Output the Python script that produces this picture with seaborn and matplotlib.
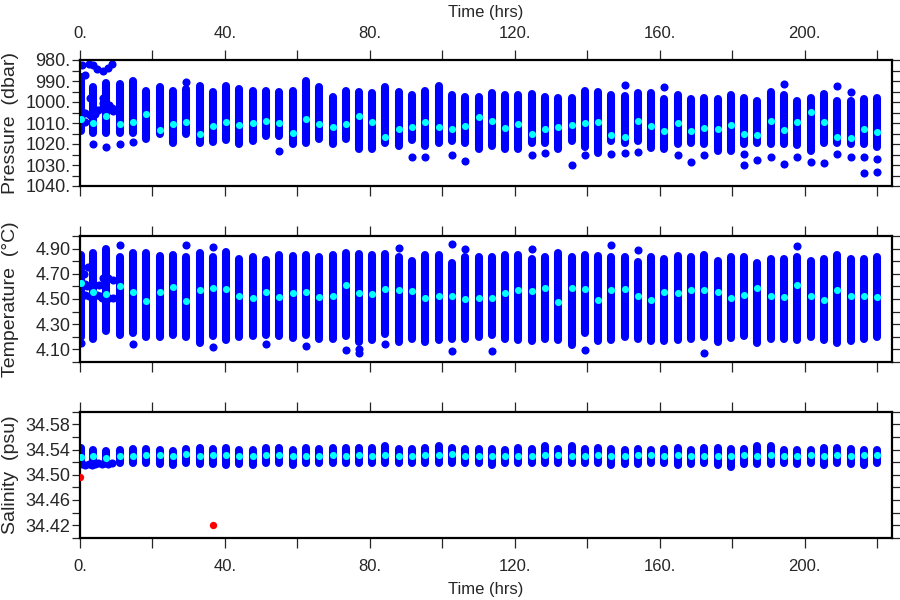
import matplotlib
matplotlib.use("Agg")
import matplotlib.pyplot as plt
from matplotlib.ticker import MultipleLocator
import pandas as pd
import seaborn as sns

# profile times (hrs), one vertical column of samples per profile
times = [0.2, 3.7, 7.3, 11.0, 14.7, 18.3, 22.0, 25.7, 29.3, 33.0,
         36.7, 40.3, 44.0, 47.7, 51.3, 55.0, 58.7, 62.3, 66.0, 69.7,
         73.3, 77.0, 80.7, 84.3, 88.0, 91.7, 95.3, 99.0, 102.7, 106.3,
         110.0, 113.7, 117.3, 121.0, 124.7, 128.3, 132.0, 135.7, 139.3, 143.0,
         146.7, 150.3, 154.0, 157.7, 161.3, 165.0, 168.7, 172.3, 176.0, 179.7,
         183.3, 187.0, 190.7, 194.3, 198.0, 201.7, 205.3, 209.0, 212.7, 216.3,
         220.0]

# pressure (dbar)
p_min = [988.0, 993.0, 991.0, 991.4, 990.2, 994.9, 993.0, 994.9, 993.8, 992.2,
         995.4, 992.4, 993.7, 994.6, 994.6, 995.2, 994.9, 990.2, 992.7, 997.8,
         994.9, 995.4, 995.9, 993.0, 995.2, 996.5, 994.9, 992.2, 996.5, 997.8,
         997.8, 995.9, 996.5, 996.5, 996.2, 997.5, 998.1, 998.1, 994.9, 995.4,
         996.5, 997.0, 995.9, 995.9, 998.4, 996.8, 998.6, 998.1, 998.6, 996.8,
         998.1, 999.4, 995.4, 996.5, 999.4, 998.1, 996.2, 999.3, 999.3, 998.7,
         998.1]
p_max = [1014.0, 1014.6, 1014.6, 1014.6, 1014.9, 1017.8, 1015.2, 1019.4, 1015.2, 1019.4,
         1018.9, 1018.1, 1020.0, 1018.4, 1016.2, 1016.2, 1020.0, 1019.4, 1017.5, 1020.2,
         1017.8, 1022.2, 1022.2, 1019.4, 1021.0, 1018.1, 1021.0, 1019.4, 1018.6, 1019.4,
         1022.2, 1021.0, 1022.2, 1022.2, 1019.4, 1019.4, 1022.2, 1018.7, 1021.3, 1024.1,
         1018.6, 1019.4, 1018.6, 1021.7, 1022.5, 1020.2, 1019.4, 1020.2, 1023.3, 1023.3,
         1020.2, 1019.4, 1020.2, 1020.2, 1020.6, 1023.3, 1019.4, 1019.4, 1020.2, 1020.2,
         1021.3]
p_mean = [1008.1, 1010.2, 1006.7, 1010.5, 1009.5, 1005.7, 1013.3, 1010.5, 1009.5, 1015.2,
          1011.4, 1009.5, 1011.0, 1009.8, 1008.9, 1009.8, 1014.6, 1008.1, 1010.5, 1011.7,
          1010.6, 1006.5, 1009.5, 1016.8, 1013.0, 1012.0, 1009.5, 1012.0, 1013.0, 1011.3,
          1007.3, 1008.9, 1012.4, 1010.5, 1015.2, 1013.0, 1011.7, 1010.8, 1009.8, 1009.5,
          1015.7, 1016.8, 1009.2, 1011.4, 1013.7, 1009.8, 1013.7, 1012.2, 1012.7, 1011.1,
          1015.2, 1015.9, 1009.2, 1013.3, 1009.5, 1004.8, 1009.7, 1016.8, 1017.1, 1013.0,
          1014.3]
p_out_idx = [1, 2, 3, 4, 8, 15, 25, 26, 28, 29, 34, 35, 37, 38, 40, 41, 41, 42, 44, 45,
             46, 47, 50, 50, 51, 52, 53, 53, 54, 55, 56, 57, 57, 58, 58, 59, 59, 60, 60]
p_out_val = [1020.1, 1021.3, 1020.0, 1019.1, 990.3, 1023.2, 1026.0, 1026.3, 1025.2, 1028.0,
             1025.4, 1024.1, 1030.0, 1025.4, 1024.8, 992.0, 1024.4, 1023.8, 993.0, 1025.2,
             1028.4, 1025.2, 1024.9, 1029.8, 1027.6, 1026.3, 991.4, 1029.5, 1026.3, 1028.4,
             1028.9, 992.4, 1024.8, 995.2, 1026.3, 1026.3, 1033.8, 1027.0, 1033.3]
# samples taken while the instrument was settling (first ~9 hrs)
p_early_t = [0.5, 2.6, 3.6, 4.6, 6.4, 7.8, 8.7, 1.3, 2.8, 6.4, 6.4, 8.0, 8.7,
             0.5, 1.4, 2.8, 4.0, 5.1, 6.4, 7.5, 9.0, 1.4]
p_early_v = [982.4, 982.0, 982.5, 984.3, 985.2, 983.7, 982.0, 987.1, 998.3, 998.0, 1000.5, 1001.5, 1002.7,
             1004.6, 1005.0, 1006.2, 1005.5, 1003.8, 1002.2, 1003.5, 1004.5, 1009.4]

# temperature (degC)
t_min = [4.200, 4.185, 4.249, 4.212, 4.233, 4.196, 4.196, 4.217, 4.201, 4.148,
         4.207, 4.175, 4.201, 4.207, 4.217, 4.207, 4.190, 4.217, 4.185, 4.185,
         4.207, 4.159, 4.175, 4.220, 4.159, 4.180, 4.159, 4.175, 4.180, 4.185,
         4.196, 4.212, 4.180, 4.175, 4.164, 4.185, 4.175, 4.137, 4.228, 4.164,
         4.175, 4.196, 4.180, 4.170, 4.164, 4.175, 4.185, 4.196, 4.159, 4.191,
         4.207, 4.148, 4.180, 4.180, 4.175, 4.201, 4.175, 4.153, 4.164, 4.185,
         4.196]
t_max = [4.850, 4.868, 4.895, 4.836, 4.868, 4.863, 4.841, 4.847, 4.836, 4.868,
         4.831, 4.873, 4.815, 4.831, 4.809, 4.847, 4.840, 4.847, 4.836, 4.852,
         4.868, 4.857, 4.852, 4.857, 4.836, 4.804, 4.852, 4.852, 4.788, 4.831,
         4.831, 4.831, 4.847, 4.847, 4.820, 4.831, 4.863, 4.831, 4.847, 4.840,
         4.836, 4.831, 4.793, 4.831, 4.820, 4.841, 4.831, 4.847, 4.804, 4.836,
         4.836, 4.783, 4.820, 4.820, 4.831, 4.804, 4.820, 4.847, 4.820, 4.815,
         4.836]
t_mean = [4.628, 4.559, 4.540, 4.601, 4.559, 4.484, 4.553, 4.596, 4.484, 4.569,
          4.585, 4.580, 4.527, 4.511, 4.559, 4.516, 4.548, 4.553, 4.516, 4.527,
          4.607, 4.548, 4.543, 4.580, 4.569, 4.564, 4.505, 4.527, 4.527, 4.500,
          4.511, 4.511, 4.548, 4.569, 4.564, 4.585, 4.479, 4.585, 4.580, 4.489,
          4.575, 4.580, 4.521, 4.489, 4.559, 4.548, 4.575, 4.569, 4.559, 4.505,
          4.532, 4.585, 4.521, 4.516, 4.607, 4.521, 4.495, 4.569, 4.521, 4.521,
          4.516]
t_out_idx = [0, 3, 4, 8, 10, 10, 14, 17, 20, 21, 21, 23, 24, 28, 28, 29, 31, 34, 38, 40,
             42, 47, 54]
t_out_val = [4.150, 4.927, 4.143, 4.927, 4.916, 4.121, 4.143, 4.127, 4.095, 4.100, 4.068,
             4.140, 4.908, 4.935, 4.084, 4.900, 4.084, 4.900, 4.095, 4.927, 4.889, 4.068, 4.921]
t_early_t = [1.1, 2.3, 1.4, 2.0, 5.3, 6.4, 7.8, 9.0,
             0.6, 1.5, 2.4, 4.6, 5.5, 6.2, 7.0, 8.0, 9.0]
t_early_v = [4.70, 4.75, 4.62, 4.60, 4.61, 4.67, 4.67, 4.65,
             4.53, 4.53, 4.52, 4.53, 4.52, 4.51, 4.50, 4.51, 4.51]

# salinity (psu)
s_min = [34.520, 34.518, 34.518, 34.518, 34.518, 34.519, 34.517, 34.516, 34.519, 34.517,
         34.517, 34.516, 34.517, 34.515, 34.519, 34.518, 34.516, 34.519, 34.518, 34.518,
         34.518, 34.519, 34.518, 34.519, 34.519, 34.519, 34.518, 34.518, 34.519, 34.519,
         34.518, 34.515, 34.518, 34.518, 34.518, 34.519, 34.519, 34.518, 34.518, 34.518,
         34.516, 34.517, 34.517, 34.519, 34.518, 34.516, 34.517, 34.518, 34.515, 34.513,
         34.517, 34.517, 34.517, 34.518, 34.517, 34.519, 34.516, 34.519, 34.517, 34.515,
         34.518]
s_max = [34.542, 34.539, 34.538, 34.539, 34.541, 34.541, 34.540, 34.538, 34.541, 34.542,
         34.541, 34.542, 34.539, 34.539, 34.542, 34.542, 34.540, 34.542, 34.541, 34.543,
         34.542, 34.543, 34.543, 34.545, 34.541, 34.541, 34.542, 34.545, 34.543, 34.541,
         34.541, 34.541, 34.540, 34.542, 34.541, 34.545, 34.541, 34.545, 34.541, 34.543,
         34.541, 34.539, 34.541, 34.540, 34.541, 34.543, 34.540, 34.542, 34.542, 34.541,
         34.541, 34.545, 34.546, 34.540, 34.540, 34.539, 34.542, 34.542, 34.541, 34.539,
         34.539]
s_mean = [34.528, 34.530, 34.527, 34.530, 34.530, 34.532, 34.531, 34.530, 34.533, 34.530,
          34.531, 34.531, 34.530, 34.530, 34.531, 34.531, 34.530, 34.530, 34.529, 34.531,
          34.530, 34.531, 34.529, 34.531, 34.529, 34.530, 34.532, 34.532, 34.533, 34.530,
          34.530, 34.530, 34.529, 34.530, 34.529, 34.531, 34.532, 34.529, 34.529, 34.531,
          34.529, 34.530, 34.531, 34.532, 34.530, 34.532, 34.530, 34.530, 34.530, 34.530,
          34.531, 34.530, 34.532, 34.530, 34.529, 34.531, 34.529, 34.531, 34.529, 34.532,
          34.531]
s_early_t = [0.6, 1.5, 2.4, 3.3, 4.2, 5.1, 6.0, 6.9, 7.8, 8.7]
s_early_v = [34.517, 34.516, 34.517, 34.516, 34.517, 34.518, 34.517, 34.518, 34.517, 34.518]
# flagged salinity samples
s_bad_t = [0.0, 36.6]
s_bad_v = [34.496, 34.420]

BLUE = "#0000ff"
CYAN = "#00ffff"
RED = "#ff0000"

sns.set_theme(style="ticks")
plt.rcParams["font.family"] = ["Liberation Sans", "DejaVu Sans"]


def draw_panel(ax, lo, hi, mean, out_idx, out_val, extra_t, extra_v):
    n = len(times)
    seg = pd.DataFrame({"t": times + times, "v": lo + hi, "prof": list(range(n)) * 2})
    sns.lineplot(data=seg, x="t", y="v", units="prof", estimator=None, color=BLUE,
                 linewidth=5.8, solid_capstyle="round", ax=ax, legend=False)
    sns.scatterplot(x=[times[i] for i in out_idx] + extra_t, y=out_val + extra_v,
                    color=BLUE, s=34, linewidth=0, ax=ax)
    sns.scatterplot(x=times, y=mean, color=CYAN, s=26, linewidth=0, ax=ax, zorder=4)
    ax.set_xlim(0, 224)
    xt = list(range(0, 221, 20))
    ax.set_xticks(xt, [f"{v}." if v % 40 == 0 else "" for v in xt])
    ax.tick_params(axis="x", which="both", direction="out", length=7.5, width=0.9,
                   top=True, bottom=True, labeltop=False, labelbottom=False, labelsize=12)
    ax.tick_params(axis="y", which="both", direction="out", length=5.8, width=0.9,
                   left=True, right=True, labelleft=True, labelright=False, labelsize=13, pad=1)
    for sp in ax.spines.values():
        sp.set_visible(True)
        sp.set_linewidth(1.6)
        sp.set_color("black")
    ax.yaxis.set_label_coords(-0.075, 0.5)


fig = plt.figure(figsize=(9, 6), dpi=100)
ax1 = fig.add_axes([0.0889, 0.69, 0.9017, 0.21])
ax2 = fig.add_axes([0.0889, 0.3967, 0.9017, 0.21])
ax3 = fig.add_axes([0.0889, 0.1038, 0.9017, 0.21])

# pressure
draw_panel(ax1, p_min, p_max, p_mean, p_out_idx, p_out_val, p_early_t, p_early_v)
ax1.set_ylim(1040, 980)
yt = list(range(980, 1041, 10))
ax1.set_yticks(yt, [f"{v}." for v in yt])
ax1.yaxis.set_minor_locator(MultipleLocator(5))
ax1.set_ylabel("Pressure  (dbar)", fontsize=14)
ax1.tick_params(axis="x", labeltop=True, pad=6)
ax1.set_xlabel("Time (hrs)", fontsize=12)
ax1.xaxis.set_label_position("top")
ax1.xaxis.set_label_coords(0.5, 1.34)

# temperature
draw_panel(ax2, t_min, t_max, t_mean, t_out_idx, t_out_val, t_early_t, t_early_v)
ax2.set_ylim(4.0, 5.0)
yt = [4.1, 4.3, 4.5, 4.7, 4.9]
ax2.set_yticks(yt, [f"{v:.2f}" for v in yt])
ax2.yaxis.set_minor_locator(MultipleLocator(0.1))
ax2.set_ylabel("Temperature  (\u00b0C)", fontsize=14)
ax2.set_xlabel("")

# salinity
draw_panel(ax3, s_min, s_max, s_mean, [], [], s_early_t, s_early_v)
sns.scatterplot(x=s_bad_t, y=s_bad_v, color=RED, s=28, linewidth=0, ax=ax3, zorder=4)
ax3.set_ylim(34.40, 34.60)
yt = [34.42, 34.46, 34.50, 34.54, 34.58]
ax3.set_yticks(yt, [f"{v:.2f}" for v in yt])
ax3.yaxis.set_minor_locator(MultipleLocator(0.02))
ax3.set_ylabel("Salinity  (psu)", fontsize=14)
ax3.tick_params(axis="x", labelbottom=True, pad=8)
ax3.set_xlabel("Time (hrs)", fontsize=12)
ax3.xaxis.set_label_coords(0.5, -0.35)

fig.savefig("out.png", dpi=100, facecolor="white")
